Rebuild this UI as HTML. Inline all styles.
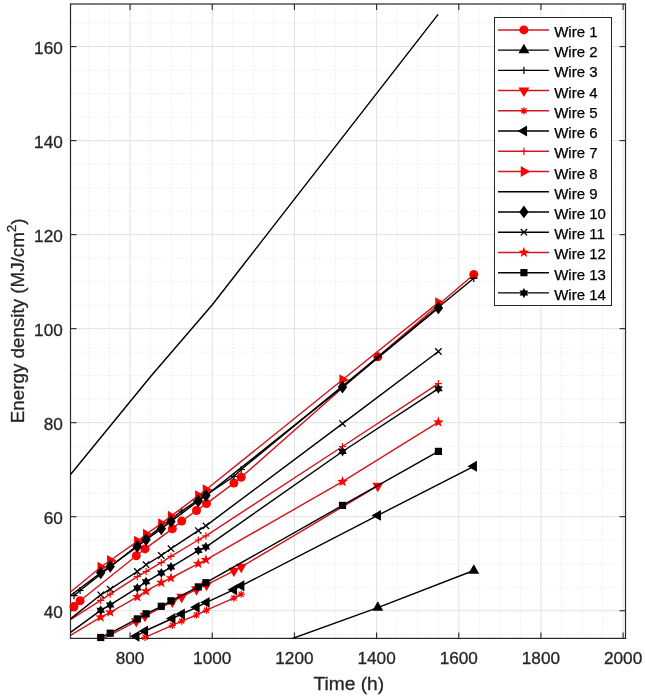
<!DOCTYPE html>
<html><head><meta charset="utf-8"><style>
html,body{margin:0;padding:0;background:#fff;}
svg{display:block;will-change:transform;}
text{font-family:"Liberation Sans",sans-serif;font-size:17.2px;fill:#262626;stroke:#262626;stroke-width:0.3px;}
.lt{font-size:15px;fill:#000;stroke:#000;stroke-width:0.25px;}
.mj{stroke:#e1e1e1;stroke-width:1;}
.mn{stroke:#e8e8e8;stroke-width:1;stroke-dasharray:1.3 2.1;}
</style></head><body>
<svg width="645" height="698" viewBox="0 0 645 698">
<defs><clipPath id="cp"><rect x="70.5" y="4.0" width="555.0" height="634.4"/></clipPath></defs>
<rect width="645" height="698" fill="#fff"/>
<g><line x1="88.97" y1="4.0" x2="88.97" y2="638.4" class="mn"/><line x1="109.52" y1="4.0" x2="109.52" y2="638.4" class="mn"/><line x1="150.61" y1="4.0" x2="150.61" y2="638.4" class="mn"/><line x1="171.15" y1="4.0" x2="171.15" y2="638.4" class="mn"/><line x1="191.69" y1="4.0" x2="191.69" y2="638.4" class="mn"/><line x1="232.78" y1="4.0" x2="232.78" y2="638.4" class="mn"/><line x1="253.33" y1="4.0" x2="253.33" y2="638.4" class="mn"/><line x1="273.87" y1="4.0" x2="273.87" y2="638.4" class="mn"/><line x1="314.96" y1="4.0" x2="314.96" y2="638.4" class="mn"/><line x1="335.50" y1="4.0" x2="335.50" y2="638.4" class="mn"/><line x1="356.05" y1="4.0" x2="356.05" y2="638.4" class="mn"/><line x1="397.13" y1="4.0" x2="397.13" y2="638.4" class="mn"/><line x1="417.68" y1="4.0" x2="417.68" y2="638.4" class="mn"/><line x1="438.22" y1="4.0" x2="438.22" y2="638.4" class="mn"/><line x1="479.31" y1="4.0" x2="479.31" y2="638.4" class="mn"/><line x1="499.85" y1="4.0" x2="499.85" y2="638.4" class="mn"/><line x1="520.40" y1="4.0" x2="520.40" y2="638.4" class="mn"/><line x1="561.49" y1="4.0" x2="561.49" y2="638.4" class="mn"/><line x1="582.03" y1="4.0" x2="582.03" y2="638.4" class="mn"/><line x1="602.57" y1="4.0" x2="602.57" y2="638.4" class="mn"/><line x1="70.5" y1="634.21" x2="625.5" y2="634.21" class="mn"/><line x1="70.5" y1="587.20" x2="625.5" y2="587.20" class="mn"/><line x1="70.5" y1="563.70" x2="625.5" y2="563.70" class="mn"/><line x1="70.5" y1="540.19" x2="625.5" y2="540.19" class="mn"/><line x1="70.5" y1="493.18" x2="625.5" y2="493.18" class="mn"/><line x1="70.5" y1="469.68" x2="625.5" y2="469.68" class="mn"/><line x1="70.5" y1="446.17" x2="625.5" y2="446.17" class="mn"/><line x1="70.5" y1="399.16" x2="625.5" y2="399.16" class="mn"/><line x1="70.5" y1="375.66" x2="625.5" y2="375.66" class="mn"/><line x1="70.5" y1="352.15" x2="625.5" y2="352.15" class="mn"/><line x1="70.5" y1="305.14" x2="625.5" y2="305.14" class="mn"/><line x1="70.5" y1="281.64" x2="625.5" y2="281.64" class="mn"/><line x1="70.5" y1="258.13" x2="625.5" y2="258.13" class="mn"/><line x1="70.5" y1="211.12" x2="625.5" y2="211.12" class="mn"/><line x1="70.5" y1="187.62" x2="625.5" y2="187.62" class="mn"/><line x1="70.5" y1="164.11" x2="625.5" y2="164.11" class="mn"/><line x1="70.5" y1="117.10" x2="625.5" y2="117.10" class="mn"/><line x1="70.5" y1="93.60" x2="625.5" y2="93.60" class="mn"/><line x1="70.5" y1="70.09" x2="625.5" y2="70.09" class="mn"/><line x1="70.5" y1="23.08" x2="625.5" y2="23.08" class="mn"/><line x1="130.06" y1="4.0" x2="130.06" y2="638.4" class="mj"/><line x1="212.24" y1="4.0" x2="212.24" y2="638.4" class="mj"/><line x1="294.41" y1="4.0" x2="294.41" y2="638.4" class="mj"/><line x1="376.59" y1="4.0" x2="376.59" y2="638.4" class="mj"/><line x1="458.77" y1="4.0" x2="458.77" y2="638.4" class="mj"/><line x1="540.94" y1="4.0" x2="540.94" y2="638.4" class="mj"/><line x1="623.12" y1="4.0" x2="623.12" y2="638.4" class="mj"/><line x1="70.5" y1="610.71" x2="625.5" y2="610.71" class="mj"/><line x1="70.5" y1="516.69" x2="625.5" y2="516.69" class="mj"/><line x1="70.5" y1="422.67" x2="625.5" y2="422.67" class="mj"/><line x1="70.5" y1="328.65" x2="625.5" y2="328.65" class="mj"/><line x1="70.5" y1="234.63" x2="625.5" y2="234.63" class="mj"/><line x1="70.5" y1="140.61" x2="625.5" y2="140.61" class="mj"/><line x1="70.5" y1="46.59" x2="625.5" y2="46.59" class="mj"/></g>
<g stroke="#262626" stroke-width="1.1"><line x1="130.06" y1="638.4" x2="130.06" y2="632.4"/><line x1="130.06" y1="4.0" x2="130.06" y2="10.0"/><line x1="212.24" y1="638.4" x2="212.24" y2="632.4"/><line x1="212.24" y1="4.0" x2="212.24" y2="10.0"/><line x1="294.41" y1="638.4" x2="294.41" y2="632.4"/><line x1="294.41" y1="4.0" x2="294.41" y2="10.0"/><line x1="376.59" y1="638.4" x2="376.59" y2="632.4"/><line x1="376.59" y1="4.0" x2="376.59" y2="10.0"/><line x1="458.77" y1="638.4" x2="458.77" y2="632.4"/><line x1="458.77" y1="4.0" x2="458.77" y2="10.0"/><line x1="540.94" y1="638.4" x2="540.94" y2="632.4"/><line x1="540.94" y1="4.0" x2="540.94" y2="10.0"/><line x1="623.12" y1="638.4" x2="623.12" y2="632.4"/><line x1="623.12" y1="4.0" x2="623.12" y2="10.0"/><line x1="70.5" y1="610.71" x2="76.5" y2="610.71"/><line x1="625.5" y1="610.71" x2="619.5" y2="610.71"/><line x1="70.5" y1="516.69" x2="76.5" y2="516.69"/><line x1="625.5" y1="516.69" x2="619.5" y2="516.69"/><line x1="70.5" y1="422.67" x2="76.5" y2="422.67"/><line x1="625.5" y1="422.67" x2="619.5" y2="422.67"/><line x1="70.5" y1="328.65" x2="76.5" y2="328.65"/><line x1="625.5" y1="328.65" x2="619.5" y2="328.65"/><line x1="70.5" y1="234.63" x2="76.5" y2="234.63"/><line x1="625.5" y1="234.63" x2="619.5" y2="234.63"/><line x1="70.5" y1="140.61" x2="76.5" y2="140.61"/><line x1="625.5" y1="140.61" x2="619.5" y2="140.61"/><line x1="70.5" y1="46.59" x2="76.5" y2="46.59"/><line x1="625.5" y1="46.59" x2="619.5" y2="46.59"/></g>
<rect x="70.5" y="4.0" width="555.0" height="634.4" fill="none" stroke="#262626" stroke-width="1.2"/>
<g><g clip-path="url(#cp)"><polyline points="74.00,606.50 80.10,600.80 136.30,555.80 145.00,548.90 172.30,528.80 181.70,521.10 196.50,510.50 206.50,503.60 233.90,483.10 241.20,477.30 377.80,356.80 473.80,274.50" fill="none" stroke="#cc1a20" stroke-width="1.45" stroke-linejoin="round"/></g><circle cx="74.00" cy="606.50" r="4.5" fill="#ff0000"/><circle cx="80.10" cy="600.80" r="4.5" fill="#ff0000"/><circle cx="136.30" cy="555.80" r="4.5" fill="#ff0000"/><circle cx="145.00" cy="548.90" r="4.5" fill="#ff0000"/><circle cx="172.30" cy="528.80" r="4.5" fill="#ff0000"/><circle cx="181.70" cy="521.10" r="4.5" fill="#ff0000"/><circle cx="196.50" cy="510.50" r="4.5" fill="#ff0000"/><circle cx="206.50" cy="503.60" r="4.5" fill="#ff0000"/><circle cx="233.90" cy="483.10" r="4.5" fill="#ff0000"/><circle cx="241.20" cy="477.30" r="4.5" fill="#ff0000"/><circle cx="377.80" cy="356.80" r="4.5" fill="#ff0000"/><circle cx="473.80" cy="274.50" r="4.5" fill="#ff0000"/><g clip-path="url(#cp)"><polyline points="241.20,657.00 377.80,607.60 473.80,570.50" fill="none" stroke="#000000" stroke-width="1.45" stroke-linejoin="round"/></g><polygon points="377.80,601.30 383.26,610.75 372.34,610.75" fill="#000000"/><polygon points="473.80,564.20 479.26,573.65 468.34,573.65" fill="#000000"/><g clip-path="url(#cp)"><polyline points="74.00,595.60 80.10,590.50 136.30,546.30 145.00,539.30 172.30,518.10 181.70,511.00 196.50,501.20 206.50,494.70 233.90,476.50 241.20,469.50 377.80,357.00 473.80,278.30" fill="none" stroke="#000000" stroke-width="1.45" stroke-linejoin="round"/></g><path d="M70.40 595.60H77.60M74.00 592.00V599.20" stroke="#000000" stroke-width="1.2" fill="none"/><path d="M76.50 590.50H83.70M80.10 586.90V594.10" stroke="#000000" stroke-width="1.2" fill="none"/><path d="M132.70 546.30H139.90M136.30 542.70V549.90" stroke="#000000" stroke-width="1.2" fill="none"/><path d="M141.40 539.30H148.60M145.00 535.70V542.90" stroke="#000000" stroke-width="1.2" fill="none"/><path d="M168.70 518.10H175.90M172.30 514.50V521.70" stroke="#000000" stroke-width="1.2" fill="none"/><path d="M178.10 511.00H185.30M181.70 507.40V514.60" stroke="#000000" stroke-width="1.2" fill="none"/><path d="M192.90 501.20H200.10M196.50 497.60V504.80" stroke="#000000" stroke-width="1.2" fill="none"/><path d="M202.90 494.70H210.10M206.50 491.10V498.30" stroke="#000000" stroke-width="1.2" fill="none"/><path d="M230.30 476.50H237.50M233.90 472.90V480.10" stroke="#000000" stroke-width="1.2" fill="none"/><path d="M237.60 469.50H244.80M241.20 465.90V473.10" stroke="#000000" stroke-width="1.2" fill="none"/><path d="M374.20 357.00H381.40M377.80 353.40V360.60" stroke="#000000" stroke-width="1.2" fill="none"/><path d="M470.20 278.30H477.40M473.80 274.70V281.90" stroke="#000000" stroke-width="1.2" fill="none"/><g clip-path="url(#cp)"><polyline points="80.10,650.80 136.30,621.30 145.00,616.00 172.30,601.70 181.70,596.90 196.50,589.40 206.50,584.90 233.90,570.80 241.20,567.00 377.80,485.90" fill="none" stroke="#cc1a20" stroke-width="1.45" stroke-linejoin="round"/></g><polygon points="136.30,627.60 141.76,618.15 130.84,618.15" fill="#ff0000"/><polygon points="145.00,622.30 150.46,612.85 139.54,612.85" fill="#ff0000"/><polygon points="172.30,608.00 177.76,598.55 166.84,598.55" fill="#ff0000"/><polygon points="181.70,603.20 187.16,593.75 176.24,593.75" fill="#ff0000"/><polygon points="196.50,595.70 201.96,586.25 191.04,586.25" fill="#ff0000"/><polygon points="206.50,591.20 211.96,581.75 201.04,581.75" fill="#ff0000"/><polygon points="233.90,577.10 239.36,567.65 228.44,567.65" fill="#ff0000"/><polygon points="241.20,573.30 246.66,563.85 235.74,563.85" fill="#ff0000"/><polygon points="377.80,492.20 383.26,482.75 372.34,482.75" fill="#ff0000"/><g clip-path="url(#cp)"><polyline points="136.30,642.50 145.00,637.30 172.30,625.30 181.70,621.10 196.50,615.00 206.50,610.20 233.90,598.10 241.20,594.20" fill="none" stroke="#cc1a20" stroke-width="1.45" stroke-linejoin="round"/></g><path d="M141.40 637.30H148.60M145.00 633.70V640.90M142.40 634.70L147.60 639.90M142.40 639.90L147.60 634.70" stroke="#ff0000" stroke-width="1.2" fill="none"/><path d="M168.70 625.30H175.90M172.30 621.70V628.90M169.70 622.70L174.90 627.90M169.70 627.90L174.90 622.70" stroke="#ff0000" stroke-width="1.2" fill="none"/><path d="M178.10 621.10H185.30M181.70 617.50V624.70M179.10 618.50L184.30 623.70M179.10 623.70L184.30 618.50" stroke="#ff0000" stroke-width="1.2" fill="none"/><path d="M192.90 615.00H200.10M196.50 611.40V618.60M193.90 612.40L199.10 617.60M193.90 617.60L199.10 612.40" stroke="#ff0000" stroke-width="1.2" fill="none"/><path d="M202.90 610.20H210.10M206.50 606.60V613.80M203.90 607.60L209.10 612.80M203.90 612.80L209.10 607.60" stroke="#ff0000" stroke-width="1.2" fill="none"/><path d="M230.30 598.10H237.50M233.90 594.50V601.70M231.30 595.50L236.50 600.70M231.30 600.70L236.50 595.50" stroke="#ff0000" stroke-width="1.2" fill="none"/><path d="M237.60 594.20H244.80M241.20 590.60V597.80M238.60 591.60L243.80 596.80M238.60 596.80L243.80 591.60" stroke="#ff0000" stroke-width="1.2" fill="none"/><g clip-path="url(#cp)"><polyline points="80.10,670.00 136.30,636.20 145.00,631.00 172.30,618.50 181.70,614.00 196.50,607.30 206.50,602.40 233.90,589.70 241.20,585.80 377.80,515.40 473.80,466.30" fill="none" stroke="#000000" stroke-width="1.45" stroke-linejoin="round"/></g><polygon points="130.00,636.20 139.45,630.74 139.45,641.66" fill="#000000"/><polygon points="138.70,631.00 148.15,625.54 148.15,636.46" fill="#000000"/><polygon points="166.00,618.50 175.45,613.04 175.45,623.96" fill="#000000"/><polygon points="175.40,614.00 184.85,608.54 184.85,619.46" fill="#000000"/><polygon points="190.20,607.30 199.65,601.84 199.65,612.76" fill="#000000"/><polygon points="200.20,602.40 209.65,596.94 209.65,607.86" fill="#000000"/><polygon points="227.60,589.70 237.05,584.24 237.05,595.16" fill="#000000"/><polygon points="234.90,585.80 244.35,580.34 244.35,591.26" fill="#000000"/><polygon points="371.50,515.40 380.95,509.94 380.95,520.86" fill="#000000"/><polygon points="467.50,466.30 476.95,460.84 476.95,471.76" fill="#000000"/><g clip-path="url(#cp)"><polyline points="70.50,619.70 100.70,600.40 110.20,594.20 137.30,576.60 146.10,571.50 161.30,562.60 171.00,556.40 198.30,540.00 205.90,535.80 342.50,446.50 438.40,383.70" fill="none" stroke="#cc1a20" stroke-width="1.45" stroke-linejoin="round"/></g><path d="M97.10 600.40H104.30M100.70 596.80V604.00" stroke="#ff0000" stroke-width="1.2" fill="none"/><path d="M106.60 594.20H113.80M110.20 590.60V597.80" stroke="#ff0000" stroke-width="1.2" fill="none"/><path d="M133.70 576.60H140.90M137.30 573.00V580.20" stroke="#ff0000" stroke-width="1.2" fill="none"/><path d="M142.50 571.50H149.70M146.10 567.90V575.10" stroke="#ff0000" stroke-width="1.2" fill="none"/><path d="M157.70 562.60H164.90M161.30 559.00V566.20" stroke="#ff0000" stroke-width="1.2" fill="none"/><path d="M167.40 556.40H174.60M171.00 552.80V560.00" stroke="#ff0000" stroke-width="1.2" fill="none"/><path d="M194.70 540.00H201.90M198.30 536.40V543.60" stroke="#ff0000" stroke-width="1.2" fill="none"/><path d="M202.30 535.80H209.50M205.90 532.20V539.40" stroke="#ff0000" stroke-width="1.2" fill="none"/><path d="M338.90 446.50H346.10M342.50 442.90V450.10" stroke="#ff0000" stroke-width="1.2" fill="none"/><path d="M434.80 383.70H442.00M438.40 380.10V387.30" stroke="#ff0000" stroke-width="1.2" fill="none"/><g clip-path="url(#cp)"><polyline points="70.50,592.00 100.70,567.20 110.20,560.50 137.30,541.30 146.10,534.20 161.30,523.60 171.00,516.20 198.30,495.60 205.90,489.80 342.50,379.80 438.40,302.60" fill="none" stroke="#cc1a20" stroke-width="1.45" stroke-linejoin="round"/></g><polygon points="107.00,567.20 97.55,561.74 97.55,572.66" fill="#ff0000"/><polygon points="116.50,560.50 107.05,555.04 107.05,565.96" fill="#ff0000"/><polygon points="143.60,541.30 134.15,535.84 134.15,546.76" fill="#ff0000"/><polygon points="152.40,534.20 142.95,528.74 142.95,539.66" fill="#ff0000"/><polygon points="167.60,523.60 158.15,518.14 158.15,529.06" fill="#ff0000"/><polygon points="177.30,516.20 167.85,510.74 167.85,521.66" fill="#ff0000"/><polygon points="204.60,495.60 195.15,490.14 195.15,501.06" fill="#ff0000"/><polygon points="212.20,489.80 202.75,484.34 202.75,495.26" fill="#ff0000"/><polygon points="348.80,379.80 339.35,374.34 339.35,385.26" fill="#ff0000"/><polygon points="444.70,302.60 435.25,297.14 435.25,308.06" fill="#ff0000"/><g clip-path="url(#cp)"><polyline points="60.00,487.50 70.50,474.60 150.00,377.20 212.30,304.80 438.10,14.40" fill="none" stroke="#000000" stroke-width="1.45" stroke-linejoin="round"/></g><g clip-path="url(#cp)"><polyline points="70.50,595.50 100.70,572.80 110.20,566.40 137.30,546.60 146.10,539.70 161.30,528.80 171.00,521.40 198.30,501.00 205.90,495.60 342.50,387.10 438.40,307.90" fill="none" stroke="#000000" stroke-width="1.45" stroke-linejoin="round"/></g><polygon points="100.70,566.40 105.40,572.80 100.70,579.20 96.00,572.80" fill="#000000"/><polygon points="110.20,560.00 114.90,566.40 110.20,572.80 105.50,566.40" fill="#000000"/><polygon points="137.30,540.20 142.00,546.60 137.30,553.00 132.60,546.60" fill="#000000"/><polygon points="146.10,533.30 150.80,539.70 146.10,546.10 141.40,539.70" fill="#000000"/><polygon points="161.30,522.40 166.00,528.80 161.30,535.20 156.60,528.80" fill="#000000"/><polygon points="171.00,515.00 175.70,521.40 171.00,527.80 166.30,521.40" fill="#000000"/><polygon points="198.30,494.60 203.00,501.00 198.30,507.40 193.60,501.00" fill="#000000"/><polygon points="205.90,489.20 210.60,495.60 205.90,502.00 201.20,495.60" fill="#000000"/><polygon points="342.50,380.70 347.20,387.10 342.50,393.50 337.80,387.10" fill="#000000"/><polygon points="438.40,301.50 443.10,307.90 438.40,314.30 433.70,307.90" fill="#000000"/><g clip-path="url(#cp)"><polyline points="70.50,618.90 100.70,594.80 110.20,589.20 137.30,571.50 146.10,564.70 161.30,555.50 171.00,548.70 198.30,530.60 205.90,525.80 342.50,423.60 438.40,351.50" fill="none" stroke="#000000" stroke-width="1.45" stroke-linejoin="round"/></g><path d="M97.50 591.60L103.90 598.00M97.50 598.00L103.90 591.60" stroke="#000000" stroke-width="1.3" fill="none"/><path d="M107.00 586.00L113.40 592.40M107.00 592.40L113.40 586.00" stroke="#000000" stroke-width="1.3" fill="none"/><path d="M134.10 568.30L140.50 574.70M134.10 574.70L140.50 568.30" stroke="#000000" stroke-width="1.3" fill="none"/><path d="M142.90 561.50L149.30 567.90M142.90 567.90L149.30 561.50" stroke="#000000" stroke-width="1.3" fill="none"/><path d="M158.10 552.30L164.50 558.70M158.10 558.70L164.50 552.30" stroke="#000000" stroke-width="1.3" fill="none"/><path d="M167.80 545.50L174.20 551.90M167.80 551.90L174.20 545.50" stroke="#000000" stroke-width="1.3" fill="none"/><path d="M195.10 527.40L201.50 533.80M195.10 533.80L201.50 527.40" stroke="#000000" stroke-width="1.3" fill="none"/><path d="M202.70 522.60L209.10 529.00M202.70 529.00L209.10 522.60" stroke="#000000" stroke-width="1.3" fill="none"/><path d="M339.30 420.40L345.70 426.80M339.30 426.80L345.70 420.40" stroke="#000000" stroke-width="1.3" fill="none"/><path d="M435.20 348.30L441.60 354.70M435.20 354.70L441.60 348.30" stroke="#000000" stroke-width="1.3" fill="none"/><g clip-path="url(#cp)"><polyline points="70.50,635.30 100.70,617.20 110.20,612.30 137.30,596.90 146.10,591.10 161.30,582.60 171.00,578.00 198.30,563.70 205.90,559.80 342.50,481.70 438.40,422.20" fill="none" stroke="#cc1a20" stroke-width="1.45" stroke-linejoin="round"/></g><polygon points="100.70,611.60 102.05,615.34 106.03,615.47 102.89,617.91 103.99,621.73 100.70,619.50 97.41,621.73 98.51,617.91 95.37,615.47 99.35,615.34" fill="#ff0000"/><polygon points="110.20,606.70 111.55,610.44 115.53,610.57 112.39,613.01 113.49,616.83 110.20,614.60 106.91,616.83 108.01,613.01 104.87,610.57 108.85,610.44" fill="#ff0000"/><polygon points="137.30,591.30 138.65,595.04 142.63,595.17 139.49,597.61 140.59,601.43 137.30,599.20 134.01,601.43 135.11,597.61 131.97,595.17 135.95,595.04" fill="#ff0000"/><polygon points="146.10,585.50 147.45,589.24 151.43,589.37 148.29,591.81 149.39,595.63 146.10,593.40 142.81,595.63 143.91,591.81 140.77,589.37 144.75,589.24" fill="#ff0000"/><polygon points="161.30,577.00 162.65,580.74 166.63,580.87 163.49,583.31 164.59,587.13 161.30,584.90 158.01,587.13 159.11,583.31 155.97,580.87 159.95,580.74" fill="#ff0000"/><polygon points="171.00,572.40 172.35,576.14 176.33,576.27 173.19,578.71 174.29,582.53 171.00,580.30 167.71,582.53 168.81,578.71 165.67,576.27 169.65,576.14" fill="#ff0000"/><polygon points="198.30,558.10 199.65,561.84 203.63,561.97 200.49,564.41 201.59,568.23 198.30,566.00 195.01,568.23 196.11,564.41 192.97,561.97 196.95,561.84" fill="#ff0000"/><polygon points="205.90,554.20 207.25,557.94 211.23,558.07 208.09,560.51 209.19,564.33 205.90,562.10 202.61,564.33 203.71,560.51 200.57,558.07 204.55,557.94" fill="#ff0000"/><polygon points="342.50,476.10 343.85,479.84 347.83,479.97 344.69,482.41 345.79,486.23 342.50,484.00 339.21,486.23 340.31,482.41 337.17,479.97 341.15,479.84" fill="#ff0000"/><polygon points="438.40,416.60 439.75,420.34 443.73,420.47 440.59,422.91 441.69,426.73 438.40,424.50 435.11,426.73 436.21,422.91 433.07,420.47 437.05,420.34" fill="#ff0000"/><g clip-path="url(#cp)"><polyline points="80.00,648.00 100.70,637.50 110.20,633.20 137.30,618.90 146.10,613.80 161.30,606.30 171.00,600.80 198.30,586.90 205.90,582.70 342.50,505.40 438.40,451.40" fill="none" stroke="#000000" stroke-width="1.45" stroke-linejoin="round"/></g><rect x="97.10" y="633.90" width="7.2" height="7.2" fill="#000000"/><rect x="106.60" y="629.60" width="7.2" height="7.2" fill="#000000"/><rect x="133.70" y="615.30" width="7.2" height="7.2" fill="#000000"/><rect x="142.50" y="610.20" width="7.2" height="7.2" fill="#000000"/><rect x="157.70" y="602.70" width="7.2" height="7.2" fill="#000000"/><rect x="167.40" y="597.20" width="7.2" height="7.2" fill="#000000"/><rect x="194.70" y="583.30" width="7.2" height="7.2" fill="#000000"/><rect x="202.30" y="579.10" width="7.2" height="7.2" fill="#000000"/><rect x="338.90" y="501.80" width="7.2" height="7.2" fill="#000000"/><rect x="434.80" y="447.80" width="7.2" height="7.2" fill="#000000"/><g clip-path="url(#cp)"><polyline points="70.50,632.30 100.70,610.30 110.20,604.90 137.30,587.90 146.10,581.80 161.30,572.90 171.00,567.10 198.30,550.60 205.90,547.10 342.50,451.50 438.40,388.70" fill="none" stroke="#000000" stroke-width="1.45" stroke-linejoin="round"/></g><polygon points="100.70,605.30 102.15,607.79 105.03,607.80 103.60,610.30 105.03,612.80 102.15,612.81 100.70,615.30 99.25,612.81 96.37,612.80 97.80,610.30 96.37,607.80 99.25,607.79" fill="#000000"/><polygon points="110.20,599.90 111.65,602.39 114.53,602.40 113.10,604.90 114.53,607.40 111.65,607.41 110.20,609.90 108.75,607.41 105.87,607.40 107.30,604.90 105.87,602.40 108.75,602.39" fill="#000000"/><polygon points="137.30,582.90 138.75,585.39 141.63,585.40 140.20,587.90 141.63,590.40 138.75,590.41 137.30,592.90 135.85,590.41 132.97,590.40 134.40,587.90 132.97,585.40 135.85,585.39" fill="#000000"/><polygon points="146.10,576.80 147.55,579.29 150.43,579.30 149.00,581.80 150.43,584.30 147.55,584.31 146.10,586.80 144.65,584.31 141.77,584.30 143.20,581.80 141.77,579.30 144.65,579.29" fill="#000000"/><polygon points="161.30,567.90 162.75,570.39 165.63,570.40 164.20,572.90 165.63,575.40 162.75,575.41 161.30,577.90 159.85,575.41 156.97,575.40 158.40,572.90 156.97,570.40 159.85,570.39" fill="#000000"/><polygon points="171.00,562.10 172.45,564.59 175.33,564.60 173.90,567.10 175.33,569.60 172.45,569.61 171.00,572.10 169.55,569.61 166.67,569.60 168.10,567.10 166.67,564.60 169.55,564.59" fill="#000000"/><polygon points="198.30,545.60 199.75,548.09 202.63,548.10 201.20,550.60 202.63,553.10 199.75,553.11 198.30,555.60 196.85,553.11 193.97,553.10 195.40,550.60 193.97,548.10 196.85,548.09" fill="#000000"/><polygon points="205.90,542.10 207.35,544.59 210.23,544.60 208.80,547.10 210.23,549.60 207.35,549.61 205.90,552.10 204.45,549.61 201.57,549.60 203.00,547.10 201.57,544.60 204.45,544.59" fill="#000000"/><polygon points="342.50,446.50 343.95,448.99 346.83,449.00 345.40,451.50 346.83,454.00 343.95,454.01 342.50,456.50 341.05,454.01 338.17,454.00 339.60,451.50 338.17,449.00 341.05,448.99" fill="#000000"/><polygon points="438.40,383.70 439.85,386.19 442.73,386.20 441.30,388.70 442.73,391.20 439.85,391.21 438.40,393.70 436.95,391.21 434.07,391.20 435.50,388.70 434.07,386.20 436.95,386.19" fill="#000000"/></g>
<g><text x="130.06" y="664.1" text-anchor="middle">800</text><text x="212.24" y="664.1" text-anchor="middle">1000</text><text x="294.41" y="664.1" text-anchor="middle">1200</text><text x="376.59" y="664.1" text-anchor="middle">1400</text><text x="458.77" y="664.1" text-anchor="middle">1600</text><text x="540.94" y="664.1" text-anchor="middle">1800</text><text x="623.12" y="664.1" text-anchor="middle">2000</text><text x="62.8" y="618.11" text-anchor="end">40</text><text x="62.8" y="524.09" text-anchor="end">60</text><text x="62.8" y="430.07" text-anchor="end">80</text><text x="62.8" y="336.05" text-anchor="end">100</text><text x="62.8" y="242.03" text-anchor="end">120</text><text x="62.8" y="148.01" text-anchor="end">140</text><text x="62.8" y="53.99" text-anchor="end">160</text></g>
<text x="348.8" y="690.0" text-anchor="middle" style="font-size:19.2px">Time (h)</text>
<text transform="translate(24.2,320.8) rotate(-90)" text-anchor="middle" style="font-size:18.8px">Energy density (MJ/cm<tspan dy="-8" style="font-size:13.5px">2</tspan><tspan dy="8">)</tspan></text>
<g><rect x="494.5" y="17.5" width="117.0" height="288.0" fill="#fff" stroke="#262626" stroke-width="1"/><line x1="498" y1="29.90" x2="549" y2="29.90" stroke="#cc1a20" stroke-width="1.45"/><circle cx="523.90" cy="29.90" r="4.5" fill="#ff0000"/><text x="554.2" y="36.90" class="lt">Wire 1</text><line x1="498" y1="50.13" x2="549" y2="50.13" stroke="#000000" stroke-width="1.45"/><polygon points="523.90,43.83 529.36,53.28 518.44,53.28" fill="#000000"/><text x="554.2" y="57.13" class="lt">Wire 2</text><line x1="498" y1="70.36" x2="549" y2="70.36" stroke="#000000" stroke-width="1.45"/><path d="M520.30 70.36H527.50M523.90 66.76V73.96" stroke="#000000" stroke-width="1.2" fill="none"/><text x="554.2" y="77.36" class="lt">Wire 3</text><line x1="498" y1="90.59" x2="549" y2="90.59" stroke="#cc1a20" stroke-width="1.45"/><polygon points="523.90,96.89 529.36,87.44 518.44,87.44" fill="#ff0000"/><text x="554.2" y="97.59" class="lt">Wire 4</text><line x1="498" y1="110.82" x2="549" y2="110.82" stroke="#cc1a20" stroke-width="1.45"/><path d="M520.30 110.82H527.50M523.90 107.22V114.42M521.30 108.22L526.50 113.42M521.30 113.42L526.50 108.22" stroke="#ff0000" stroke-width="1.2" fill="none"/><text x="554.2" y="117.82" class="lt">Wire 5</text><line x1="498" y1="131.05" x2="549" y2="131.05" stroke="#000000" stroke-width="1.45"/><polygon points="517.60,131.05 527.05,125.59 527.05,136.51" fill="#000000"/><text x="554.2" y="138.05" class="lt">Wire 6</text><line x1="498" y1="151.28" x2="549" y2="151.28" stroke="#cc1a20" stroke-width="1.45"/><path d="M520.30 151.28H527.50M523.90 147.68V154.88" stroke="#ff0000" stroke-width="1.2" fill="none"/><text x="554.2" y="158.28" class="lt">Wire 7</text><line x1="498" y1="171.51" x2="549" y2="171.51" stroke="#cc1a20" stroke-width="1.45"/><polygon points="530.20,171.51 520.75,166.05 520.75,176.97" fill="#ff0000"/><text x="554.2" y="178.51" class="lt">Wire 8</text><line x1="498" y1="191.74" x2="549" y2="191.74" stroke="#000000" stroke-width="1.45"/><text x="554.2" y="198.74" class="lt">Wire 9</text><line x1="498" y1="211.97" x2="549" y2="211.97" stroke="#000000" stroke-width="1.45"/><polygon points="523.90,205.57 528.60,211.97 523.90,218.37 519.20,211.97" fill="#000000"/><text x="554.2" y="218.97" class="lt">Wire 10</text><line x1="498" y1="232.20" x2="549" y2="232.20" stroke="#000000" stroke-width="1.45"/><path d="M520.70 229.00L527.10 235.40M520.70 235.40L527.10 229.00" stroke="#000000" stroke-width="1.3" fill="none"/><text x="554.2" y="239.20" class="lt">Wire 11</text><line x1="498" y1="252.43" x2="549" y2="252.43" stroke="#cc1a20" stroke-width="1.45"/><polygon points="523.90,246.83 525.25,250.57 529.23,250.70 526.09,253.14 527.19,256.96 523.90,254.73 520.61,256.96 521.71,253.14 518.57,250.70 522.55,250.57" fill="#ff0000"/><text x="554.2" y="259.43" class="lt">Wire 12</text><line x1="498" y1="272.66" x2="549" y2="272.66" stroke="#000000" stroke-width="1.45"/><rect x="520.30" y="269.06" width="7.2" height="7.2" fill="#000000"/><text x="554.2" y="279.66" class="lt">Wire 13</text><line x1="498" y1="292.89" x2="549" y2="292.89" stroke="#000000" stroke-width="1.45"/><polygon points="523.90,287.89 525.35,290.38 528.23,290.39 526.80,292.89 528.23,295.39 525.35,295.40 523.90,297.89 522.45,295.40 519.57,295.39 521.00,292.89 519.57,290.39 522.45,290.38" fill="#000000"/><text x="554.2" y="299.89" class="lt">Wire 14</text></g>
</svg>
</body></html>
